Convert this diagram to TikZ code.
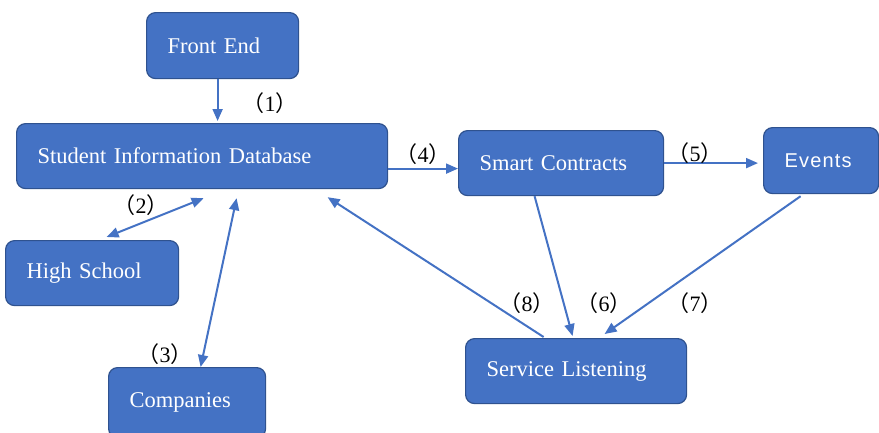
\documentclass[tikz,border=0pt]{standalone}
\usepackage{fontspec}
\setmainfont{Liberation Serif}
\newfontfamily\evfont[LetterSpace=6]{Liberation Sans}
\newfontfamily\cjk{Noto Sans CJK SC}
\usetikzlibrary{arrows.meta, positioning, calc}
\definecolor{BoxBlue}{RGB}{68, 114, 196}
\definecolor{EdgeBlue}{RGB}{47, 82, 143}
\newcommand{\stepno}[1]{{\cjk （}#1{\cjk ）}}

\begin{document}
\begin{tikzpicture}[x=1pt, y=-1pt,
    box/.style={draw=EdgeBlue, line width=1.2pt, fill=BoxBlue, rounded corners=9pt,
      text=white, anchor=north west, align=left, inner xsep=21pt, inner ysep=0pt,
      font=\fontsize{22.5}{26}\selectfont},
    flow/.style={draw=BoxBlue, line width=2pt, -{Triangle[length=12pt, width=10pt]}},
    both/.style={flow, {Triangle[length=12pt, width=10pt]}-{Triangle[length=12pt, width=10pt]}},
    num/.style={font=\fontsize{22}{26}\selectfont, inner sep=0pt}]
    \useasboundingbox (0,0) rectangle (879,432);
    \clip (0,0) rectangle (879,432);

    % Boxes
    \node[box, text width=110pt, minimum height=66pt] (fe) at (146,12) {Front End};
    \node[box, text width=329pt, minimum height=65pt] (db) at (16,123) {Student Information Database};
    \node[box, text width=163pt, minimum height=65pt] (sc) at (458,130) {Smart Contracts};
    \node[box, text width=73pt, minimum height=66pt, font=\evfont\fontsize{20}{24}\selectfont] (ev) at (763,127) {Events};
    \node[box, text width=131pt, minimum height=65pt] (hs) at (5,240) {High School};
    \node[box, text width=115pt, minimum height=70pt] (co) at (108,367) {Companies};
    \node[box, text width=179pt, minimum height=65pt] (sl) at (465,338) {Service Listening};

    % Arrows
    \draw[flow] ([xshift=-5pt]fe.south) -- ([xshift=15.5pt, yshift=2pt]db.north);
    \draw[both] ([xshift=1.5pt, yshift=-9pt]db.south) -- ([xshift=14.5pt, yshift=3pt]hs.north);
    \draw[both] ([xshift=34.5pt, yshift=-9pt]db.south) -- ([xshift=13.5pt]co.north);
    \draw[flow] ([yshift=-12.5pt]db.east) -- ([yshift=-12.5pt]db.east -| sc.west);
    \draw[flow] (sc.east) -- ([xshift=-5pt]sc.east -| ev.west);
    \draw[flow] ([xshift=-26.5pt]sc.south) -- ([xshift=-3.5pt, yshift=2pt]sl.north);
    \draw[flow] ([xshift=-20.5pt, yshift=-2pt]ev.south) -- ([xshift=28.5pt, yshift=4pt]sl.north);
    \draw[flow] ([xshift=-32.5pt, yshift=1pt]sl.north) -- ([xshift=125.5pt, yshift=-8pt]db.south);

    % Step numbers
    \node[num] (l1) at (270,103) {\stepno{1}};
    \node[num] (l2) at (141,205) {\stepno{2}};
    \node[num] (l3) at (165,354) {\stepno{3}};
    \node[num] (l4) at (423,154) {\stepno{4}};
    \node[num] (l5) at (695,153) {\stepno{5}};
    \node[num] (l6) at (604,303) {\stepno{6}};
    \node[num] (l7) at (695,303) {\stepno{7}};
    \node[num] (l8) at (527,303) {\stepno{8}};
\end{tikzpicture}
\end{document}
